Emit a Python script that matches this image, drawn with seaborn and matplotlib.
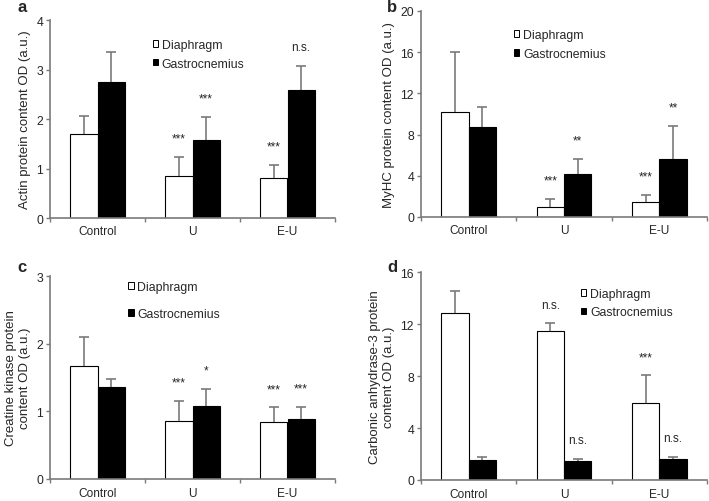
import matplotlib
matplotlib.use('Agg')
import matplotlib.pyplot as plt
from matplotlib.patches import Patch
import seaborn as sns
import pandas as pd

categories = ['Control', 'U', 'E-U']
tissues = ['Diaphragm', 'Gastrocnemius']

# panel a - actin
actin_dia = [1.70, 0.85, 0.80]
actin_dia_err = [0.37, 0.38, 0.28]
actin_gas = [2.75, 1.58, 2.58]
actin_gas_err = [0.60, 0.46, 0.50]
actin_dia_sig = ['', '***', '***']
actin_gas_sig = ['', '***', 'n.s.']

# panel b - MyHC
myhc_dia = [10.2, 0.95, 1.50]
myhc_dia_err = [5.8, 0.78, 0.62]
myhc_gas = [8.75, 4.15, 5.63]
myhc_gas_err = [1.92, 1.50, 3.20]
myhc_dia_sig = ['', '***', '***']
myhc_gas_sig = ['', '**', '**']

# panel c - creatine kinase
ck_dia = [1.67, 0.86, 0.84]
ck_dia_err = [0.43, 0.29, 0.22]
ck_gas = [1.355, 1.08, 0.88]
ck_gas_err = [0.12, 0.25, 0.19]
ck_dia_sig = ['', '***', '***']
ck_gas_sig = ['', '*', '***']

# panel d - carbonic anhydrase-3
ca3_dia = [12.88, 11.47, 5.89]
ca3_dia_err = [1.66, 0.61, 2.17]
ca3_gas = [1.54, 1.46, 1.61]
ca3_gas_err = [0.23, 0.18, 0.18]
ca3_dia_sig = ['', 'n.s.', '***']
ca3_gas_sig = ['', 'n.s.', 'n.s.']

sns.set_style('white')
plt.rcParams['font.family'] = ['Liberation Sans', 'DejaVu Sans']

GRAY = '#7a7a7a'

fig = plt.figure(figsize=(7.09, 5.02), dpi=100)


def panel(rect, dia, dia_err, gas, gas_err, dia_sig, gas_sig, yticks, ylabel,
          letter, letter_pos, leg_anchor, xpad=5, legsp=0.55):
    ax = fig.add_axes(rect)
    df = pd.DataFrame({
        'group': categories * 2,
        'tissue': [tissues[0]] * 3 + [tissues[1]] * 3,
        'value': dia + gas,
    })
    sns.barplot(data=df, x='group', y='value', hue='tissue', order=categories,
                hue_order=tissues, palette=['white', 'black'], edgecolor='black',
                linewidth=0.8, width=0.57, errorbar=None, legend=False, ax=ax)
    errs = [dia_err, gas_err]
    sigs = [dia_sig, gas_sig]
    for cont, err, sig in zip(ax.containers, errs, sigs):
        xs = [b.get_x() + b.get_width() / 2 for b in cont]
        hs = [b.get_height() for b in cont]
        tops = [h + e for h, e in zip(hs, err)]
        ax.vlines(xs, hs, tops, color=GRAY, linewidth=1.2, zorder=1)
        ax.plot(xs, tops, linestyle='none', marker='_', markersize=7,
                markeredgewidth=1.2, color=GRAY, zorder=1)
        for x, t, s in zip(xs, tops, sig):
            if s:
                ax.annotate(s, (x, t), xytext=(0, 11), textcoords='offset points',
                            ha='center', va='baseline', fontsize=8.5)
    ax.set_xlim(-0.5, 2.5)
    ax.set_ylim(yticks[0], yticks[-1])
    ax.set_yticks(yticks)
    ax.set_xticks([-0.5, 0.5, 1.5, 2.5], minor=True)
    ax.tick_params(axis='x', which='major', length=0, pad=xpad, labelsize=8.6)
    ax.tick_params(axis='x', which='minor', length=3, width=1, color=GRAY,
                   direction='out', bottom=True)
    ax.tick_params(axis='y', length=3, width=1, color=GRAY, direction='out',
                   left=True, labelsize=8.8, pad=2)
    for s in ['top', 'right']:
        ax.spines[s].set_visible(False)
    for s in ['left', 'bottom']:
        ax.spines[s].set_color(GRAY)
        ax.spines[s].set_linewidth(1.2)
    ax.set_xlabel('')
    ax.set_ylabel(ylabel, fontsize=9.5, labelpad=4)
    handles = [Patch(facecolor='white', edgecolor='black', linewidth=0.7),
               Patch(facecolor='black', edgecolor='black', linewidth=0.7)]
    ax.legend(handles, tissues, loc='upper left', bbox_to_anchor=leg_anchor,
              frameon=False, fontsize=8.8, handlelength=0.45, handleheight=0.45,
              handletextpad=0.3, labelspacing=legsp, borderaxespad=0,
              borderpad=0)
    fig.text(letter_pos[0], letter_pos[1], letter, fontsize=12, fontweight='bold',
             ha='center', va='center')
    return ax


W, H = 709, 502


def rect(l, r, t, b):
    return [l / W, 1 - b / H, (r - l) / W, (b - t) / H]


panel(rect(50, 335, 21, 219), actin_dia, actin_dia_err, actin_gas, actin_gas_err,
      actin_dia_sig, actin_gas_sig, [0, 1, 2, 3, 4],
      'Actin protein content OD (a.u.)', 'a', (22 / W, 1 - 8 / H), (0.36, 0.905))
panel(rect(421, 707, 12, 218), myhc_dia, myhc_dia_err, myhc_gas, myhc_gas_err,
      myhc_dia_sig, myhc_gas_sig, [0, 4, 8, 12, 16, 20],
      'MyHC protein content OD (a.u.)', 'b', (392 / W, 1 - 8 / H), (0.325, 0.912))
panel(rect(50, 335, 277, 480), ck_dia, ck_dia_err, ck_gas, ck_gas_err,
      ck_dia_sig, ck_gas_sig, [0, 1, 2, 3],
      'Creatine kinase protein\ncontent OD (a.u.)', 'c', (22 / W, 1 - 268 / H),
      (0.274, 0.975), xpad=6, legsp=1.2)
panel(rect(421, 707, 273, 481), ca3_dia, ca3_dia_err, ca3_gas, ca3_gas_err,
      ca3_dia_sig, ca3_gas_sig, [0, 4, 8, 12, 16],
      'Carbonic anhydrase-3 protein\ncontent OD (a.u.)', 'd', (392 / W, 1 - 268 / H),
      (0.559, 0.925), xpad=6)

fig.savefig('out.png', dpi=100)
